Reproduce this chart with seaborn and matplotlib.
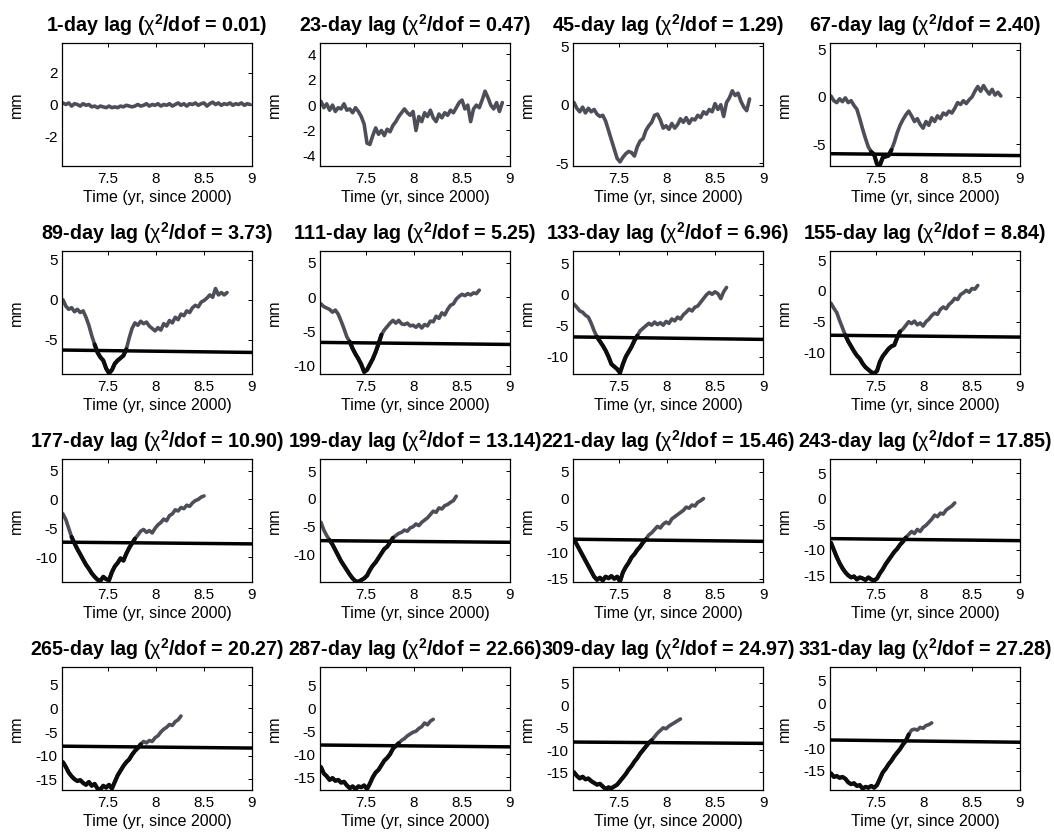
import numpy as np
import pandas as pd
import matplotlib
matplotlib.use("Agg")
import matplotlib.pyplot as plt
import seaborn as sns

# sampling epochs (yr since 2000)
TIME = [7.03, 7.06, 7.09, 7.12, 7.15, 7.18, 7.21, 7.24, 7.27, 7.30,
        7.33, 7.36, 7.39, 7.42, 7.45, 7.48, 7.51, 7.54, 7.57, 7.60,
        7.63, 7.66, 7.69, 7.72, 7.75, 7.78, 7.81, 7.84, 7.87, 7.90,
        7.93, 7.96, 7.99, 8.02, 8.05, 8.08, 8.11, 8.14, 8.17, 8.20,
        8.23, 8.26, 8.29, 8.32, 8.35, 8.38, 8.41, 8.44, 8.47, 8.50,
        8.53, 8.56, 8.59, 8.62, 8.65, 8.68, 8.71, 8.74, 8.77, 8.80,
        8.83, 8.86, 8.89, 8.92, 8.95, 8.98]

LAGS = [1, 23, 45, 67, 89, 111, 133, 155, 177, 199, 221, 243, 265, 287, 309, 331]
CHI2 = ["0.01", "0.47", "1.29", "2.40", "3.73", "5.25", "6.96", "8.84",
        "10.90", "13.14", "15.46", "17.85", "20.27", "22.66", "24.97", "27.28"]

# lagged displacement (mm); each series ends where the lag runs out of data
Y_LAG1 = [0.10, 0.00, 0.10, -0.10, 0.05, 0.00, -0.10, 0.05, -0.05, 0.00,
          -0.15, -0.10, -0.20, -0.10, -0.15, -0.20, -0.10, -0.20, -0.15, -0.20,
          -0.10, -0.15, -0.05, -0.10, -0.15, -0.10, 0.00, -0.10, -0.05, 0.05,
          -0.10, 0.00, -0.05, 0.05, -0.10, 0.00, -0.05, 0.05, -0.10, 0.00,
          0.10, -0.05, 0.05, -0.10, 0.05, 0.00, 0.10, -0.05, 0.05, 0.10,
          -0.10, 0.05, 0.15, 0.00, 0.10, -0.05, 0.05, 0.00, 0.10, -0.05,
          0.05, 0.00, 0.10, -0.05, 0.05, 0.00]
Y_LAG23 = [0.3, -0.2, 0.1, -0.4, 0.0, -0.5, -0.2, -0.3, 0.1, -0.4,
           -0.3, -0.6, -0.2, -0.5, -0.9, -1.5, -3.0, -3.1, -2.4, -1.8,
           -2.3, -2.0, -2.4, -1.9, -2.1, -1.6, -1.3, -0.9, -0.6, -0.3,
           -0.6, -0.8, -0.5, -2.0, -0.9, -1.3, -0.6, -0.9, -0.4, -1.0,
           -1.3, -0.7, -1.0, -0.6, -0.8, -0.4, -0.6, -0.2, 0.2, 0.4,
           -0.3, 0.0, -1.3, -0.3, 0.0, -0.2, 0.4, 1.1, 0.6, 0.0,
           -0.3, 0.2, -0.5, 0.2]
Y_LAG45 = [0.2, -0.3, -0.6, -0.2, -0.7, -0.3, -0.6, -0.4, -0.8, -1.0,
           -0.9, -1.4, -2.2, -3.0, -3.8, -4.6, -4.9, -4.5, -4.2, -4.0,
           -4.1, -4.4, -3.6, -3.1, -2.9, -2.2, -1.8, -1.5, -0.9, -0.8,
           -1.3, -2.0, -1.8, -2.1, -1.6, -2.0, -1.7, -1.2, -1.5, -1.1,
           -1.6, -1.2, -1.3, -0.9, -1.1, -0.6, -0.8, -0.4, -0.6, 0.1,
           -0.4, 0.0, -1.0, 0.2, 0.6, 1.2, 0.8, 1.0, 0.3, -0.2,
           -0.5, 0.5]
Y_LAG67 = [0.1, -0.4, -0.6, -0.2, -0.5, -0.1, -0.6, -0.4, -0.9, -1.3,
           -2.3, -3.4, -4.4, -5.3, -5.8, -6.1, -7.1, -7.2, -6.4, -6.3,
           -6.2, -5.6, -4.8, -3.8, -3.0, -2.4, -1.9, -1.5, -2.0, -2.6,
           -2.3, -2.9, -3.3, -2.6, -3.0, -2.2, -2.6, -2.0, -2.3, -1.7,
           -1.9, -1.5, -1.7, -1.2, -0.6, -0.8, -0.4, -0.7, -0.3, 0.0,
           0.6, 1.1, 0.6, 1.2, 0.7, 0.3, 0.8, 0.2, 0.5, 0.1]
Y_LAG89 = [0.0, -0.8, -1.2, -1.0, -1.5, -1.2, -1.6, -1.4, -2.2, -3.2,
           -4.5, -5.6, -6.6, -7.2, -7.6, -8.6, -9.2, -8.8, -8.0, -7.6,
           -7.3, -7.0, -6.2, -4.8, -3.6, -2.9, -3.2, -2.7, -3.0, -2.8,
           -3.3, -3.6, -3.9, -3.5, -3.8, -3.0, -3.3, -2.6, -2.9, -2.2,
           -2.5, -1.8, -2.0, -1.4, -1.6, -1.0, -0.7, -0.9, -0.3, -0.1,
           0.2, 0.6, 0.3, 1.4, 0.6, 0.9, 0.6, 0.9]
Y_LAG111 = [-1.0, -1.4, -1.6, -1.8, -2.2, -1.9, -2.5, -3.5, -4.6, -5.8,
            -6.5, -7.5, -8.3, -9.0, -9.8, -10.9, -10.6, -9.8, -9.0, -8.0,
            -6.8, -5.5, -4.8, -4.3, -3.8, -3.4, -3.8, -3.4, -3.9, -4.0,
            -3.8, -4.2, -4.1, -4.4, -4.0, -4.5, -4.0, -4.2, -3.5, -3.6,
            -2.8, -3.1, -2.3, -2.6, -1.8, -1.2, -1.0, -0.3, 0.1, 0.4,
            0.2, 0.5, 0.3, 0.6, 0.5, 1.0]
Y_LAG133 = [-1.5, -2.0, -2.6, -2.8, -3.3, -3.6, -4.6, -5.8, -6.8, -7.5,
            -8.2, -9.0, -10.0, -11.2, -11.6, -12.0, -12.6, -11.2, -10.0, -9.2,
            -8.4, -7.4, -6.6, -5.8, -5.4, -5.0, -4.6, -4.9, -4.4, -4.8,
            -4.5, -4.9, -4.3, -4.6, -3.9, -4.2, -3.6, -3.9, -3.2, -2.8,
            -2.3, -2.6, -2.0, -1.8, -1.2, -0.6, 0.0, 0.4, 0.1, 0.5,
            0.2, -0.6, 0.5, 1.2]
Y_LAG155 = [-2.0, -2.8, -3.5, -4.8, -6.0, -7.2, -8.2, -9.0, -9.8, -10.5,
            -11.0, -11.8, -12.4, -12.8, -13.2, -13.4, -13.0, -11.5, -10.6, -10.0,
            -9.4, -9.0, -8.8, -7.6, -6.6, -6.2, -5.6, -5.0, -5.3, -4.9,
            -5.5, -5.2, -5.7, -5.0, -4.6, -4.0, -3.6, -3.8, -3.0, -2.6,
            -2.9, -2.2, -1.8, -1.2, -1.4, -0.6, -0.3, 0.1, -0.2, 0.4,
            0.3, 0.9]
Y_LAG177 = [-2.5, -3.5, -5.0, -6.5, -7.6, -8.6, -9.5, -10.4, -11.3, -12.0,
            -12.8, -13.4, -13.9, -14.1, -13.4, -13.8, -14.0, -12.6, -11.6, -11.0,
            -10.2, -10.6, -9.4, -8.4, -7.6, -6.8, -6.2, -5.5, -5.2, -5.7,
            -5.4, -5.8, -5.0, -4.4, -4.0, -3.4, -3.7, -2.8, -2.5, -1.8,
            -2.0, -1.4, -1.6, -1.0, -1.2, -0.6, -0.2, 0.0, 0.4, 0.6]
Y_LAG199 = [-4.2, -5.6, -6.6, -7.4, -8.2, -9.2, -10.2, -11.2, -12.0, -12.8,
            -13.6, -14.3, -14.8, -14.9, -14.6, -14.3, -13.8, -12.8, -12.0, -11.4,
            -10.6, -9.8, -9.0, -8.6, -7.8, -7.0, -6.6, -6.2, -6.0, -5.6,
            -5.8, -5.2, -5.0, -4.5, -4.8, -4.2, -3.8, -3.4, -2.8, -2.2,
            -2.4, -1.6, -1.8, -1.2, -1.0, -0.6, -0.3, 0.5]
Y_LAG221 = [-7.6, -8.6, -9.6, -10.6, -11.6, -12.6, -13.6, -14.6, -15.2, -14.8,
            -15.3, -14.6, -14.9, -14.5, -15.0, -14.6, -15.5, -13.8, -12.8, -12.0,
            -11.0, -10.4, -9.6, -9.0, -8.2, -7.6, -6.8, -6.4, -5.8, -5.2,
            -5.5, -4.8, -4.4, -4.7, -3.8, -3.4, -3.0, -2.6, -2.2, -1.6,
            -1.8, -1.2, -1.4, -0.7, -0.4, 0.0]
Y_LAG243 = [-8.6, -10.0, -11.4, -12.6, -13.6, -14.4, -15.0, -15.4, -15.2, -15.8,
            -15.4, -15.6, -15.9, -15.4, -15.8, -16.0, -15.6, -14.6, -13.8, -12.8,
            -12.0, -11.2, -10.4, -9.8, -9.0, -8.4, -7.6, -7.0, -6.4, -6.8,
            -6.0, -6.4, -5.6, -5.2, -4.6, -4.0, -3.2, -3.5, -2.8, -3.0,
            -2.2, -1.8, -1.4, -0.8]
Y_LAG265 = [-11.4, -12.4, -13.6, -14.4, -15.0, -15.4, -15.2, -15.8, -16.2, -15.6,
            -16.4, -16.0, -17.0, -17.2, -16.4, -16.8, -16.2, -17.0, -15.6, -14.2,
            -13.2, -12.2, -11.4, -10.8, -9.8, -9.0, -8.4, -7.6, -7.0, -7.3,
            -6.8, -7.0, -6.2, -5.8, -5.0, -4.4, -4.0, -3.4, -3.6, -2.8,
            -2.4, -1.6]
Y_LAG287 = [-12.8, -14.2, -14.8, -15.6, -15.2, -15.8, -15.6, -16.2, -16.0, -16.8,
            -17.4, -17.0, -17.6, -17.0, -17.2, -16.8, -17.6, -16.4, -15.0, -14.0,
            -13.4, -12.4, -11.4, -10.8, -10.0, -8.8, -8.2, -7.6, -7.0, -6.6,
            -6.0, -5.6, -5.2, -5.0, -4.4, -4.0, -3.2, -3.6, -2.8, -2.4]
Y_LAG309 = [-15.0, -15.8, -16.4, -16.0, -16.6, -16.4, -17.0, -17.4, -17.8, -17.6,
            -18.2, -18.8, -18.4, -18.6, -18.2, -17.8, -17.0, -16.2, -15.4, -14.4,
            -13.6, -12.6, -11.8, -10.8, -10.0, -9.2, -8.4, -7.8, -7.0, -6.2,
            -5.6, -5.0, -5.2, -4.6, -4.2, -3.8, -3.4, -3.0]
Y_LAG331 = [-15.6, -16.4, -16.2, -16.6, -16.4, -16.8, -17.6, -18.0, -17.8, -18.4,
            -18.2, -19.0, -18.6, -18.8, -18.4, -18.8, -18.2, -16.8, -15.4, -14.6,
            -13.6, -12.8, -11.8, -11.0, -10.2, -9.2, -8.4, -7.0, -6.0, -5.8,
            -6.0, -5.4, -5.6, -5.0, -4.8, -4.4]

SERIES = [Y_LAG1, Y_LAG23, Y_LAG45, Y_LAG67, Y_LAG89, Y_LAG111, Y_LAG133, Y_LAG155,
          Y_LAG177, Y_LAG199, Y_LAG221, Y_LAG243, Y_LAG265, Y_LAG287, Y_LAG309, Y_LAG331]

# detection threshold at the left and right edges of the window (mm)
THR_LEFT = [None, None, None, -6.0, -6.3, -6.6, -6.8, -7.2,
            -7.4, -7.5, -7.6, -7.8, -8.0, -8.0, -8.2, -8.2]
THR_RIGHT = [None, None, None, -6.2, -6.6, -6.9, -7.2, -7.5,
             -7.7, -7.8, -8.0, -8.2, -8.4, -8.4, -8.5, -8.7]

# vertical ranges and tick spacing of each panel
Y_LOW = [-3.9, -4.8, -5.25, -7.3, -9.3, -11.2, -12.8, -13.5,
         -14.3, -14.95, -15.6, -16.3, -17.3, -17.8, -19.0, -19.3]
Y_HIGH = [3.9, 4.9, 5.3, 5.7, 6.1, 6.7, 7.1, 6.5,
          7.0, 7.2, 7.4, 7.8, 8.8, 9.0, 8.7, 8.0]
Y_STEP = [2, 2, 5, 5, 5, 5, 5, 5, 5, 5, 5, 5, 5, 5, 5, 5]

X_RANGE = (7.02, 9.0)
X_TICKS = [7.5, 8.0, 8.5, 9.0]
X_TICK_LABELS = ["7.5", "8", "8.5", "9"]

GREY = "#4e4e58"
DARK = "#0d0d0d"

sns.set_theme(style="white", context="notebook")
plt.rcParams["font.family"] = ["Liberation Sans", "DejaVu Sans"]
plt.rcParams["text.color"] = "black"
plt.rcParams["axes.labelcolor"] = "black"
plt.rcParams["xtick.color"] = "black"
plt.rcParams["ytick.color"] = "black"
plt.rcParams["mathtext.fontset"] = "custom"
plt.rcParams["mathtext.rm"] = "Liberation Sans"
plt.rcParams["mathtext.it"] = "Liberation Sans:italic"
plt.rcParams["mathtext.bf"] = "Liberation Sans:bold"

W, H = 1054, 840
fig = plt.figure(figsize=(W / 100, H / 100), dpi=100)
fig.patch.set_facecolor("white")

COL_LEFT = [62, 320, 573, 830]
ROW_TOP = [43, 251, 459, 667]
AX_W, AX_H = 190, 123


def below_runs(y, thr):
    below = y < thr
    ext = below.copy()
    ext[1:] |= below[:-1]
    ext[:-1] |= below[1:]
    start = ext & ~np.r_[False, ext[:-1]]
    return ext, np.cumsum(start)


for k in range(16):
    r, c = divmod(k, 4)
    ax = fig.add_axes([COL_LEFT[c] / W, 1 - (ROW_TOP[r] + AX_H) / H, AX_W / W, AX_H / H])

    y = np.asarray(SERIES[k], dtype=float)
    t = np.asarray(TIME[:len(y)], dtype=float)
    df = pd.DataFrame({"t": t, "y": y})
    sns.lineplot(data=df, x="t", y="y", ax=ax, color=GREY, lw=2.6,
                 estimator=None, sort=False)

    if THR_LEFT[k] is not None:
        thr_df = pd.DataFrame({"t": list(X_RANGE), "y": [THR_LEFT[k], THR_RIGHT[k]]})
        sns.lineplot(data=thr_df, x="t", y="y", ax=ax, color="black", lw=2.5,
                     estimator=None, sort=False)
        thr = np.interp(t, list(X_RANGE), [THR_LEFT[k], THR_RIGHT[k]])
        mask, run = below_runs(y, thr)
        if mask.any():
            low = df[mask].assign(run=run[mask])
            sns.lineplot(data=low, x="t", y="y", units="run", ax=ax, color=DARK,
                         lw=3.0, estimator=None, sort=False)

    ax.set_xlim(*X_RANGE)
    ax.set_ylim(Y_LOW[k], Y_HIGH[k])
    ax.set_xticks(X_TICKS)
    ax.set_xticklabels(X_TICK_LABELS)
    ax.yaxis.set_major_locator(matplotlib.ticker.MultipleLocator(Y_STEP[k]))
    ax.yaxis.set_major_formatter(matplotlib.ticker.FormatStrFormatter("%g"))
    ax.tick_params(direction="in", length=3, width=0.7, top=True, right=True,
                   labelsize=11, pad=4, colors="black")
    ax.tick_params(axis="y", pad=3)
    for s in ax.spines.values():
        s.set_color("black")
        s.set_linewidth(0.9)
    ax.set_xlabel("Time (yr, since 2000)", fontsize=11.5, labelpad=3, color="black")
    ax.set_ylabel("mm", fontsize=11.5, color="black")
    ax.yaxis.set_label_coords(-0.2, 0.5)
    ax.set_title(f"{LAGS[k]}-day lag ($\\mathrm{{\\chi}}^{{\\mathbf{{2}}}}$/dof = {CHI2[k]})",
                 fontsize=14.2, fontweight="bold", pad=8, color="black")
    ax.grid(False)

fig.savefig("out.png", dpi=100, facecolor="white")
